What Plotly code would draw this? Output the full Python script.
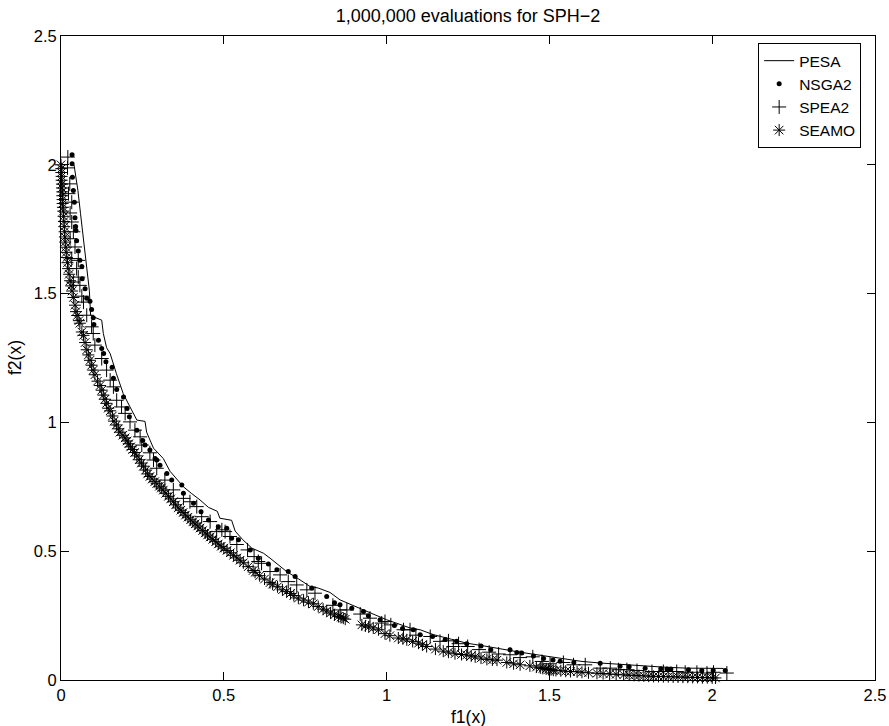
import plotly.graph_objects as go

# ---------------- data ----------------
tick_vals = [0, 0.5, 1, 1.5, 2, 2.5]
tick_text = ["0", "0.5", "1", "1.5", "2", "2.5"]

pesa_x = [0.040, 0.045, 0.052, 0.060, 0.068, 0.078, 0.087, 0.091, 0.099, 0.125,
          0.130, 0.140, 0.151, 0.170, 0.191, 0.212, 0.233, 0.258, 0.263, 0.284,
          0.294, 0.314, 0.335, 0.366, 0.376, 0.400, 0.427, 0.453, 0.480, 0.488,
          0.524, 0.535, 0.558, 0.586, 0.622, 0.642, 0.668, 0.693, 0.730, 0.765,
          0.790, 0.826, 0.857, 0.908, 0.929, 1.000, 1.031, 1.072, 1.103, 1.144,
          1.200, 1.246, 1.300, 1.349, 1.400, 1.451, 1.502, 1.554, 1.600, 1.656,
          1.720, 1.789, 1.850, 1.922, 1.980, 2.035]
pesa_y = [2.000, 1.960, 1.900, 1.810, 1.720, 1.620, 1.513, 1.416, 1.410, 1.397,
          1.345, 1.290, 1.267, 1.190, 1.112, 1.060, 1.009, 1.004, 0.962, 0.900,
          0.886, 0.860, 0.810, 0.763, 0.750, 0.725, 0.699, 0.670, 0.655, 0.628,
          0.620, 0.578, 0.545, 0.512, 0.492, 0.473, 0.447, 0.421, 0.392, 0.363,
          0.357, 0.340, 0.311, 0.285, 0.272, 0.234, 0.221, 0.202, 0.195, 0.176,
          0.158, 0.143, 0.132, 0.120, 0.110, 0.100, 0.091, 0.079, 0.072, 0.066,
          0.060, 0.053, 0.050, 0.046, 0.045, 0.045]

nsga2_x = [0.034, 0.034, 0.035, 0.038, 0.041, 0.043, 0.045, 0.046, 0.048, 0.053,
           0.058, 0.064, 0.065, 0.074, 0.079, 0.089, 0.094, 0.099, 0.101, 0.115,
           0.125, 0.131, 0.138, 0.157, 0.161, 0.171, 0.192, 0.203, 0.210, 0.233,
           0.251, 0.258, 0.273, 0.289, 0.294, 0.304, 0.325, 0.340, 0.371, 0.376,
           0.407, 0.430, 0.453, 0.483, 0.509, 0.524, 0.545, 0.581, 0.606, 0.637,
           0.663, 0.698, 0.719, 0.770, 0.816, 0.840, 0.857, 0.893, 0.929, 0.944,
           0.980, 1.024, 1.049, 1.082, 1.103, 1.141, 1.180, 1.215, 1.246, 1.290,
           1.320, 1.379, 1.400, 1.415, 1.451, 1.482, 1.511, 1.533, 1.575, 1.656,
           1.717, 1.745, 1.794, 1.842, 1.861, 1.873, 1.927, 1.968, 2.003, 2.040]
nsga2_y = [2.039, 2.004, 1.952, 1.900, 1.855, 1.794, 1.760, 1.745, 1.705, 1.665,
           1.629, 1.605, 1.558, 1.519, 1.482, 1.470, 1.438, 1.406, 1.380, 1.319,
           1.287, 1.267, 1.235, 1.214, 1.171, 1.128, 1.099, 1.054, 1.022, 0.970,
           0.930, 0.912, 0.893, 0.860, 0.854, 0.834, 0.802, 0.776, 0.757, 0.725,
           0.686, 0.653, 0.621, 0.595, 0.589, 0.550, 0.544, 0.505, 0.473, 0.450,
           0.428, 0.421, 0.402, 0.357, 0.324, 0.300, 0.292, 0.279, 0.266, 0.249,
           0.234, 0.212, 0.200, 0.195, 0.176, 0.169, 0.157, 0.150, 0.141, 0.132,
           0.117, 0.117, 0.107, 0.105, 0.093, 0.083, 0.078, 0.073, 0.068, 0.065,
           0.053, 0.051, 0.046, 0.044, 0.043, 0.043, 0.040, 0.037, 0.038, 0.037]

spea2_x = [0.021, 0.020, 0.027, 0.023, 0.033, 0.028, 0.033, 0.038, 0.028, 0.043,
           0.033, 0.053, 0.048, 0.053, 0.038, 0.058, 0.064, 0.069, 0.079, 0.094,
           0.099, 0.104, 0.125, 0.140, 0.151, 0.161, 0.171, 0.186, 0.197, 0.212,
           0.227, 0.243, 0.248, 0.273, 0.284, 0.294, 0.319, 0.345, 0.376, 0.396,
           0.417, 0.432, 0.458, 0.478, 0.494, 0.504, 0.519, 0.540, 0.573, 0.593,
           0.606, 0.616, 0.642, 0.673, 0.698, 0.724, 0.755, 0.780, 0.835, 0.857,
           0.878, 0.919, 0.949, 0.985, 0.995, 1.013, 1.052, 1.072, 1.090, 1.134,
           1.164, 1.190, 1.205, 1.221, 1.249, 1.284, 1.315, 1.344, 1.379, 1.410,
           1.449, 1.477, 1.502, 1.543, 1.574, 1.610, 1.656, 1.687, 1.712, 1.738,
           1.769, 1.815, 1.850, 1.891, 1.917, 1.953, 1.984, 2.004, 2.045]
spea2_y = [2.030, 1.988, 1.926, 1.888, 1.855, 1.813, 1.778, 1.740, 1.713, 1.681,
           1.636, 1.629, 1.597, 1.564, 1.545, 1.532, 1.490, 1.467, 1.416, 1.371,
           1.345, 1.300, 1.248, 1.203, 1.164, 1.138, 1.086, 1.060, 1.035, 1.002,
           0.970, 0.944, 0.912, 0.882, 0.854, 0.822, 0.776, 0.738, 0.705, 0.692,
           0.673, 0.634, 0.615, 0.576, 0.583, 0.576, 0.557, 0.526, 0.505, 0.479,
           0.460, 0.453, 0.421, 0.408, 0.382, 0.369, 0.350, 0.337, 0.290, 0.272,
           0.272, 0.256, 0.240, 0.221, 0.227, 0.214, 0.195, 0.195, 0.174, 0.169,
           0.150, 0.152, 0.130, 0.141, 0.130, 0.118, 0.108, 0.101, 0.098, 0.087,
           0.090, 0.072, 0.063, 0.068, 0.059, 0.059, 0.046, 0.046, 0.040, 0.040,
           0.037, 0.033, 0.033, 0.033, 0.030, 0.030, 0.027, 0.030, 0.027]

seamo_x = [0.000, 0.001, 0.001, 0.002, 0.002, 0.003, 0.003, 0.004, 0.004, 0.005,
           0.005, 0.006, 0.007, 0.008, 0.009, 0.010, 0.011, 0.012, 0.013, 0.015,
           0.016, 0.018, 0.020, 0.022, 0.025, 0.028, 0.031, 0.034, 0.038, 0.043,
           0.046, 0.050, 0.055, 0.058, 0.064, 0.069, 0.074, 0.079, 0.084, 0.089,
           0.094, 0.099, 0.104, 0.112, 0.120, 0.125, 0.130, 0.135, 0.140, 0.145,
           0.151, 0.158, 0.163, 0.170, 0.176, 0.181, 0.190, 0.197, 0.203, 0.208,
           0.214, 0.220, 0.226, 0.233, 0.240, 0.247, 0.253, 0.260, 0.266, 0.273,
           0.280, 0.288, 0.294, 0.302, 0.308, 0.314, 0.322, 0.330, 0.337, 0.345,
           0.352, 0.360, 0.368, 0.375, 0.382, 0.390, 0.398, 0.405, 0.412, 0.420,
           0.427, 0.435, 0.443, 0.450, 0.458, 0.466, 0.475, 0.483, 0.492, 0.500,
           0.510, 0.520, 0.530, 0.540, 0.550, 0.560, 0.575, 0.590, 0.596, 0.610,
           0.625, 0.642, 0.650, 0.665, 0.680, 0.693, 0.705, 0.715, 0.729, 0.745,
           0.760, 0.775, 0.790, 0.805, 0.816, 0.828, 0.840, 0.852, 0.860, 0.867,
           0.873, 0.924, 0.935, 0.945, 0.959, 0.975, 0.995, 1.010, 1.036, 1.050,
           1.062, 1.080, 1.098, 1.110, 1.123, 1.150, 1.174, 1.190, 1.210, 1.230,
           1.246, 1.260, 1.272, 1.290, 1.308, 1.325, 1.339, 1.369, 1.390, 1.410,
           1.440, 1.460, 1.472, 1.480, 1.490, 1.497, 1.505, 1.512, 1.520, 1.535,
           1.550, 1.565, 1.585, 1.600, 1.620, 1.646, 1.665, 1.685, 1.705, 1.728,
           1.745, 1.760, 1.775, 1.790, 1.805, 1.820, 1.835, 1.850, 1.865, 1.880,
           1.895, 1.910, 1.925, 1.940, 1.955, 1.970, 1.985, 2.000, 2.010]
seamo_y = [2.000, 1.985, 1.970, 1.955, 1.940, 1.925, 1.910, 1.895, 1.880, 1.865,
           1.850, 1.835, 1.820, 1.800, 1.780, 1.760, 1.740, 1.720, 1.700, 1.680,
           1.660, 1.640, 1.620, 1.597, 1.575, 1.550, 1.530, 1.510, 1.485, 1.455,
           1.430, 1.415, 1.395, 1.385, 1.351, 1.338, 1.310, 1.282, 1.262, 1.241,
           1.222, 1.203, 1.185, 1.160, 1.143, 1.125, 1.106, 1.090, 1.074, 1.055,
           1.045, 1.025, 1.005, 0.990, 0.975, 0.962, 0.950, 0.940, 0.928, 0.917,
           0.905, 0.895, 0.883, 0.870, 0.855, 0.842, 0.830, 0.815, 0.800, 0.790,
           0.780, 0.770, 0.762, 0.752, 0.745, 0.737, 0.725, 0.713, 0.703, 0.692,
           0.680, 0.668, 0.659, 0.650, 0.640, 0.632, 0.622, 0.614, 0.606, 0.598,
           0.590, 0.580, 0.571, 0.563, 0.555, 0.546, 0.537, 0.528, 0.519, 0.512,
           0.503, 0.494, 0.484, 0.474, 0.465, 0.455, 0.440, 0.425, 0.418, 0.405,
           0.392, 0.378, 0.372, 0.362, 0.350, 0.343, 0.336, 0.328, 0.318, 0.310,
           0.302, 0.296, 0.285, 0.275, 0.268, 0.260, 0.253, 0.247, 0.244, 0.240,
           0.236, 0.214, 0.210, 0.206, 0.202, 0.195, 0.180, 0.172, 0.163, 0.160,
           0.156, 0.150, 0.143, 0.137, 0.130, 0.120, 0.112, 0.108, 0.102, 0.099,
           0.097, 0.094, 0.090, 0.085, 0.080, 0.078, 0.077, 0.068, 0.063, 0.059,
           0.055, 0.050, 0.047, 0.045, 0.043, 0.041, 0.040, 0.038, 0.037, 0.036,
           0.034, 0.033, 0.032, 0.030, 0.028, 0.026, 0.025, 0.023, 0.022, 0.020,
           0.019, 0.018, 0.017, 0.016, 0.015, 0.014, 0.014, 0.013, 0.013, 0.012,
           0.012, 0.011, 0.011, 0.010, 0.010, 0.009, 0.009, 0.008, 0.008]

assert len(pesa_x) == len(pesa_y)
assert len(nsga2_x) == len(nsga2_y)
assert len(spea2_x) == len(spea2_y)
assert len(seamo_x) == len(seamo_y)

FONT = "Liberation Sans, Arial, Helvetica, sans-serif"

# ---------------- figure ----------------
fig = go.Figure()
fig.add_trace(go.Scatter(x=pesa_x, y=pesa_y, mode="lines", name="PESA",
                         line=dict(color="black", width=1), cliponaxis=False))
fig.add_trace(go.Scatter(x=nsga2_x, y=nsga2_y, mode="markers", name="NSGA2",
                         marker=dict(symbol="circle", size=5, color="black"),
                         cliponaxis=False))
fig.add_trace(go.Scatter(x=spea2_x, y=spea2_y, mode="markers", name="SPEA2",
                         marker=dict(symbol="cross-thin-open", size=10, color="black",
                                     line=dict(color="black", width=1)),
                         cliponaxis=False))
fig.add_trace(go.Scatter(x=seamo_x, y=seamo_y, mode="markers", name="SEAMO",
                         marker=dict(symbol="asterisk-open", size=10, color="black",
                                     line=dict(color="black", width=1)),
                         cliponaxis=False))

axis_common = dict(range=[0, 2.5], tickvals=tick_vals, ticktext=tick_text,
                   ticks="inside", ticklen=8, tickwidth=1, tickcolor="black",
                   showline=True, linecolor="black", linewidth=1, mirror="ticks",
                   showgrid=False, zeroline=False, automargin=False,
                   tickfont=dict(family=FONT, size=16.5, color="black"))

fig.update_layout(
    width=889, height=726,
    margin=dict(l=61, r=14, t=36, b=46, autoexpand=False),
    paper_bgcolor="white", plot_bgcolor="white",
    font=dict(family=FONT, size=16, color="black"),
    title=dict(text="1,000,000 evaluations for SPH\u22122", x=0.5, xref="paper",
               xanchor="center", y=1 - 16 / 726, yref="container", yanchor="middle",
               font=dict(family=FONT, size=18, color="black")),
    xaxis=axis_common,
    yaxis=axis_common,
    showlegend=True,
    legend=dict(x=0.983, y=0.989, xanchor="right", yanchor="top",
                bordercolor="black", borderwidth=1, bgcolor="white",
                font=dict(family=FONT, size=15.5, color="black"),
                tracegroupgap=0, itemwidth=30),
    annotations=[
        dict(text="f1(x)", x=0.5, y=-(717 - 680) / 644, xref="paper", yref="paper",
             xanchor="center", yanchor="middle", showarrow=False,
             font=dict(family=FONT, size=17.5, color="black")),
        dict(text="f2(x)", x=-(61 - 15) / 814, y=0.5, xref="paper", yref="paper",
             xanchor="center", yanchor="middle", textangle=-90, showarrow=False,
             font=dict(family=FONT, size=17.5, color="black")),
    ],
)

fig.write_html("out.html",
               config={"displayModeBar": False},
               post_script="document.body.style.margin='0';"
                           "document.body.style.overflow='hidden';")
